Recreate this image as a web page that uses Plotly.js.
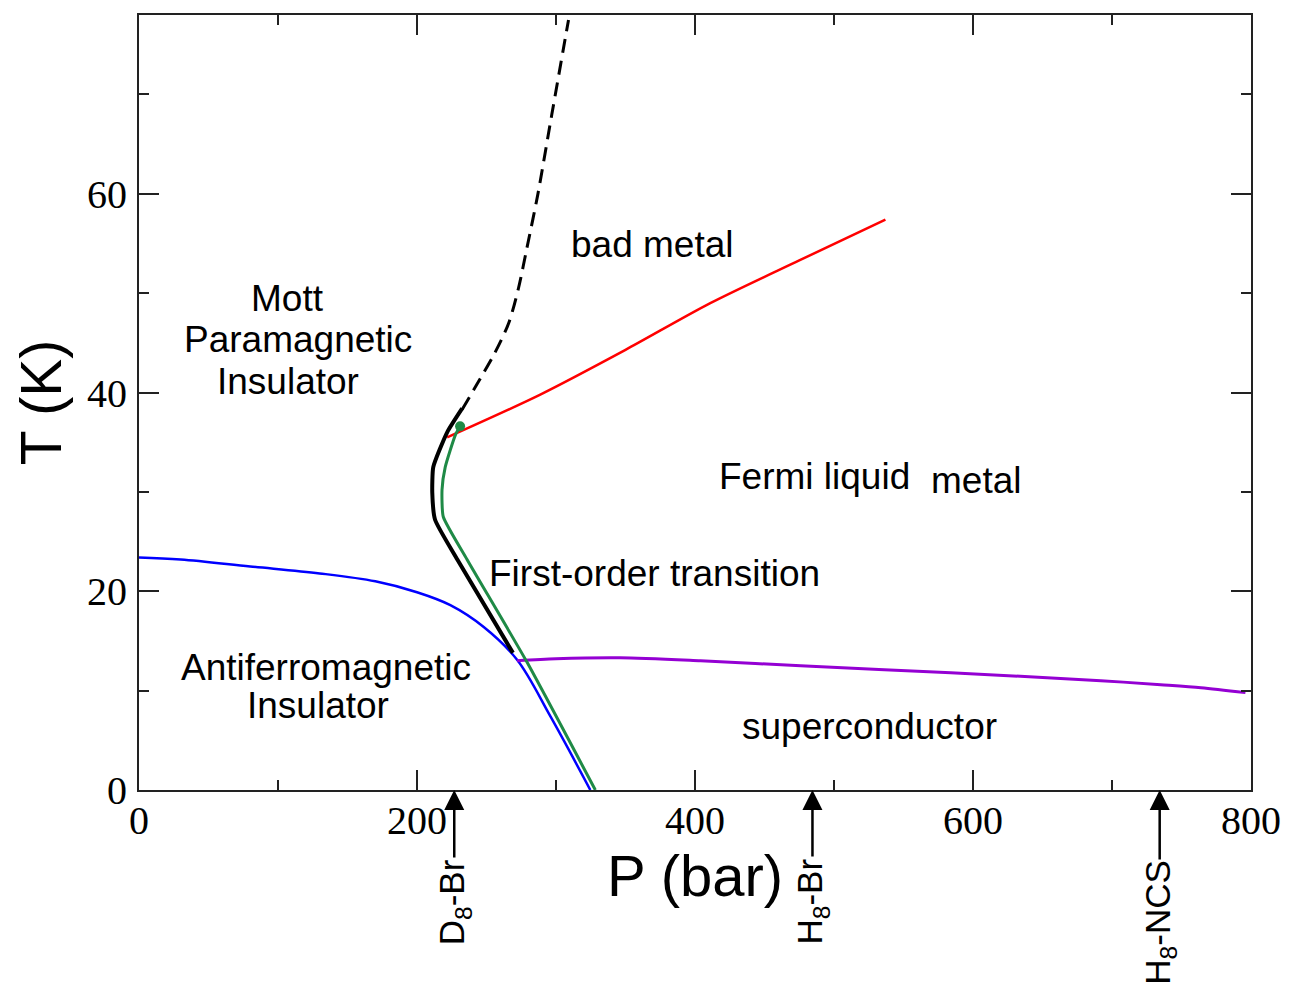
<!DOCTYPE html>
<html>
<head>
<meta charset="utf-8">
<script src="https://cdn.plot.ly/plotly-3.0.1.min.js"></script>
<style>html,body{margin:0;padding:0;background:#fff;}#chart{width:1289px;height:987px;}</style>
</head>
<body>
<div id="chart"></div>
<script>
// Crossover (dashed) line
const crossP = [232.5, 243, 256, 266, 273, 279, 287, 297, 309];
const crossT = [38.3, 40.8, 44.0, 47.0, 50.5, 54.5, 60, 68, 77.5];
// First-order transition (black, solid)
const firstP = [232.5, 221.7, 211.7, 211, 213, 229, 269];
const firstT = [38.4, 36.0, 32.5, 29.9, 27.2, 23.2, 13.8];
// Green line (first-order transition, theory)
const greenP = [231, 227.5, 220.3, 218, 218.9, 236, 279, 328.3];
const greenT = [36.6, 35.7, 32.5, 30.2, 27.5, 23.2, 12.9, 0];
// Red line (bad metal / Fermi liquid crossover)
const redP = [221.7, 288.7, 350, 411, 475, 537];
const redT = [35.5, 39.8, 44.3, 49.0, 53.3, 57.4];
// Blue line (antiferromagnetic boundary)
const blueP = [0, 30, 80, 130, 170, 200, 224, 248, 272, 296, 324.7];
const blueT = [23.4, 23.2, 22.5, 21.8, 21.0, 19.9, 18.6, 16.4, 13.1, 7.4, 0];
// Purple line (superconducting Tc)
const scP = [272, 300, 346, 404, 476, 584, 692, 735, 764, 796];
const scT = [13.0, 13.2, 13.3, 13.0, 12.5, 11.8, 11.0, 10.6, 10.3, 9.8];
// Critical point
const critP = [231];
const critT = [36.6];
// Compound pressure markers
const compoundP = [226.8, 484.5, 734.3];
const compoundLabels = ['D<sub>8</sub>-Br', 'H<sub>8</sub>-Br', 'H<sub>8</sub>-NCS'];

const xTicks = [0, 200, 400, 600, 800];
const yTicks = [0, 20, 40, 60];

const traces = [
  {x: crossP, y: crossT, mode: 'lines', line: {color: '#000', width: 3, dash: '14px,8px', shape: 'spline', smoothing: 0.8}, hoverinfo: 'skip'},
  {x: redP, y: redT, mode: 'lines', line: {color: '#ff0000', width: 2.5, shape: 'spline', smoothing: 0.8}, hoverinfo: 'skip'},
  {x: blueP, y: blueT, mode: 'lines', line: {color: '#0000ff', width: 2.5, shape: 'spline', smoothing: 1}, hoverinfo: 'skip'},
  {x: scP, y: scT, mode: 'lines', line: {color: '#9400d3', width: 3, shape: 'spline', smoothing: 0.8}, hoverinfo: 'skip'},
  {x: firstP, y: firstT, mode: 'lines', line: {color: '#000', width: 4, shape: 'spline', smoothing: 0.5}, hoverinfo: 'skip'},
  {x: greenP, y: greenT, mode: 'lines', line: {color: '#1f8a46', width: 3, shape: 'spline', smoothing: 0.5}, hoverinfo: 'skip'},
  {x: critP, y: critT, mode: 'markers', marker: {color: '#1f8a46', size: 10}, hoverinfo: 'skip'}
];

const sans = 'Liberation Sans, Arial, sans-serif';
const txtFont = {family: sans, size: 37, color: '#000'};
function lbl(text, x, y, xanchor) {
  return {text: text, x: x, y: y, xref: 'x', yref: 'y', showarrow: false, font: txtFont, xanchor: xanchor || 'center', yanchor: 'middle'};
}

const annotations = [
  lbl('bad metal', 369.3, 54.9),
  lbl('Mott', 106.5, 49.5),
  lbl('Paramagnetic', 114.5, 45.3),
  lbl('Insulator', 107.3, 41.1),
  lbl('Fermi liquid', 416, 31.6, 'left'),
  lbl('metal', 568.5, 31.1, 'left'),
  lbl('First-order transition', 370.8, 21.8),
  lbl('Antiferromagnetic', 134.6, 12.3),
  lbl('Insulator', 128.9, 8.5),
  lbl('superconductor', 525.6, 6.4)
];

const labelOffset = [112, 111, 133];
compoundP.forEach(function (p, i) {
  annotations.push({text: compoundLabels[i], x: p, y: 0, xref: 'x', yref: 'y', showarrow: true,
    ax: 0, ay: labelOffset[i], textangle: -90, standoff: 0,
    arrowhead: 2, arrowsize: 1.6, arrowwidth: 2.5, arrowcolor: '#000',
    font: {family: sans, size: 35, color: '#000'}});
});

const axisCommon = {
  showgrid: false, zeroline: false, showline: true, mirror: 'allticks', linecolor: '#222', linewidth: 2,
  ticks: 'inside', ticklen: 20, tickwidth: 2, tickcolor: '#222',
  tickfont: {family: 'Liberation Serif, Times New Roman, serif', size: 40, color: '#000'}
};

const layout = {
  width: 1289, height: 987,
  margin: {l: 139, r: 38, t: 15, b: 197},
  paper_bgcolor: '#fff', plot_bgcolor: '#fff',
  showlegend: false,
  xaxis: Object.assign({}, axisCommon, {range: [0, 800], tickmode: 'array', tickvals: xTicks, ticktext: xTicks.map(String),
    ticklabelstandoff: -6,
    title: {text: 'P (bar)', font: {family: sans, size: 58, color: '#000'}, standoff: 0},
    minor: {dtick: 100, ticks: 'inside', ticklen: 10, tickwidth: 2, tickcolor: '#222'}}),
  yaxis: Object.assign({}, axisCommon, {range: [0, 78], tickmode: 'array', tickvals: yTicks, ticktext: yTicks.map(String),
    ticklabelstandoff: 2,
    title: {text: 'T (K)', font: {family: sans, size: 57, color: '#000'}, standoff: 7},
    minor: {dtick: 10, ticks: 'inside', ticklen: 10, tickwidth: 2, tickcolor: '#222'}}),
  annotations: annotations
};

Plotly.newPlot('chart', traces, layout, {staticPlot: true});
</script>
</body>
</html>
